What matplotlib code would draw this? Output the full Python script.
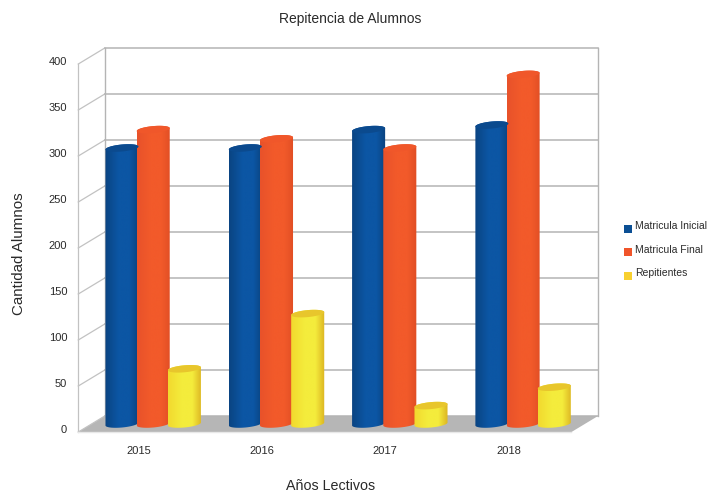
import numpy as np
import matplotlib
matplotlib.use("Agg")
import matplotlib.pyplot as plt
from matplotlib.colors import LinearSegmentedColormap
from matplotlib.legend_handler import HandlerPatch
from matplotlib.patches import Patch, PathPatch, Polygon, Rectangle
from matplotlib.path import Path

plt.rcParams["font.family"] = ["Liberation Sans", "DejaVu Sans"]

years = ["2015", "2016", "2017", "2018"]
series_names = ["Matricula Inicial", "Matricula Final", "Repitientes"]
matricula_inicial = [300, 300, 320, 325]
matricula_final = [320, 310, 300, 380]
repitientes = [60, 120, 20, 40]
y_ticks = [0, 50, 100, 150, 200, 250, 300, 350, 400]

series_values = [matricula_inicial, matricula_final, repitientes]

# (borde, claro, borde derecho, tapa, leyenda)
series_styles = [
    ("#0a4482", "#0c56a4", "#0a427e", "#0b4a8e", "#0b4f94"),
    ("#e8522a", "#f25a2a", "#e04e24", "#f0572a", "#f0542a"),
    ("#f2d92e", "#f4ec3c", "#dcb422", "#e8c62c", "#f8d030"),
]

GRID = "#b4b4b4"
GRID_LEFT = "#c2c2c2"
FLOOR = "#b6b6b6"
TEXT = "#2a2a2a"

# profundidad del cuadro 3D en unidades de datos
DX = 0.1075
DY = 8.7
BAR_W = 0.268
BAR_STEP = 0.253
CAP_H = 3.8
CAP_TILT = 1.6

fig = plt.figure(figsize=(7.08, 4.96), dpi=100)
ax = fig.add_axes([0, 0, 1, 1])
ax.axis("off")

x_min, x_max = -153.2 / 123.3, (708 - 153.2) / 123.3
y_min, y_max = (424 - 496) / 0.92, 424 / 0.92

left, right = -0.5, 3.5
y_top = y_ticks[-1]

# suelo
ax.add_patch(Polygon([(left - DX, -DY), (left + DX, DY), (right + DX, DY), (right - DX, -DY)],
                     closed=True, facecolor=FLOOR, edgecolor="none", zorder=1))

# paredes y grilla
for v in y_ticks:
    ax.plot([left - DX, left + DX], [v - DY, v + DY], color=GRID_LEFT, lw=0.9, zorder=2)
    ax.plot([left + DX, right + DX], [v + DY, v + DY], color=GRID, lw=1.1, zorder=2)
ax.plot([left - DX, left - DX], [-DY, y_top - DY], color=GRID_LEFT, lw=0.9, zorder=2)
ax.plot([left + DX, left + DX], [DY, y_top + DY], color=GRID, lw=1.0, zorder=2)
ax.plot([right + DX, right + DX], [DY, y_top + DY], color=GRID, lw=1.0, zorder=2)
ax.plot([left - DX, right - DX], [-DY, -DY], color="#e8e8e8", lw=1.0, zorder=2)


def draw_cylinder(x, value, style, z):
    edge, light, edge_r, cap, _ = style
    t = np.linspace(np.pi, 2 * np.pi, 60)
    bx = x + BAR_W / 2 * np.cos(t)
    by = CAP_TILT * np.cos(t) + CAP_H * np.sin(t)
    tt = np.linspace(0, np.pi, 60)
    ux = x + BAR_W / 2 * np.cos(tt)
    uy = value + CAP_TILT * np.cos(tt) + CAP_H * np.sin(tt)
    outline = np.column_stack([np.r_[bx, ux], np.r_[by, uy]])
    body = PathPatch(Path(np.vstack([outline, outline[0]]), closed=True),
                     facecolor="none", edgecolor="none", zorder=z)
    ax.add_patch(body)
    cmap = LinearSegmentedColormap.from_list(
        "cyl", [(0, edge), (0.4, light), (0.72, light), (1, edge_r)])
    im = ax.imshow(np.linspace(0, 1, 128).reshape(1, -1), cmap=cmap, aspect="auto",
                   extent=(x - BAR_W / 2, x + BAR_W / 2, -CAP_H - 3, value + CAP_H + 3),
                   zorder=z, interpolation="bilinear")
    im.set_clip_path(body)
    c = np.linspace(0, 2 * np.pi, 80)
    ax.fill(x + BAR_W / 2 * np.cos(c),
            value + CAP_TILT * np.cos(c) + CAP_H * np.sin(c),
            color=cap, lw=0, zorder=z + 0.5)


# cilindros
for i in range(len(years)):
    for s, values in enumerate(series_values):
        draw_cylinder(i + (s - 1) * BAR_STEP, values[i], series_styles[s], 3 + i + s * 0.1)

ax.set_xlim(x_min, x_max)
ax.set_ylim(y_min, y_max)

# etiquetas
for v in y_ticks:
    ax.text(left - DX - 0.09, v - DY + 2.7, str(v), ha="right", va="center",
            fontsize=8, color=TEXT)
for i, year in enumerate(years):
    ax.text(i - DX - 0.01, -DY - 20.5, year, ha="center", va="center",
            fontsize=8, color=TEXT)

fig.text(350 / 708, 1 - 19 / 496, "Repitencia de Alumnos", ha="center", va="center",
         fontsize=10, color=TEXT)
fig.text(331 / 708, 1 - 485.5 / 496, "Años Lectivos", ha="center", va="center",
         fontsize=10.3, color=TEXT)
fig.text(19 / 708, 1 - 254 / 496, "Cantidad Alumnos", ha="center", va="center",
         rotation=90, fontsize=10.9, color=TEXT)


def square_handle(legend, orig_handle, xdescent, ydescent, width, height, fontsize):
    return Rectangle((0, -2.6), 5.8, 5.8)


handles = [Patch(facecolor=st[4], edgecolor="none", label=name)
           for st, name in zip(series_styles, series_names)]
fig.legend(handles=handles, loc="upper left", bbox_to_anchor=(624 / 708, 1 - 221 / 496),
           frameon=False, fontsize=7.5, labelspacing=1.3, handlelength=0.8,
           handletextpad=0.3, borderpad=0, borderaxespad=0, labelcolor=TEXT,
           handler_map={Patch: HandlerPatch(patch_func=square_handle)})

fig.savefig("out.png", dpi=100)
